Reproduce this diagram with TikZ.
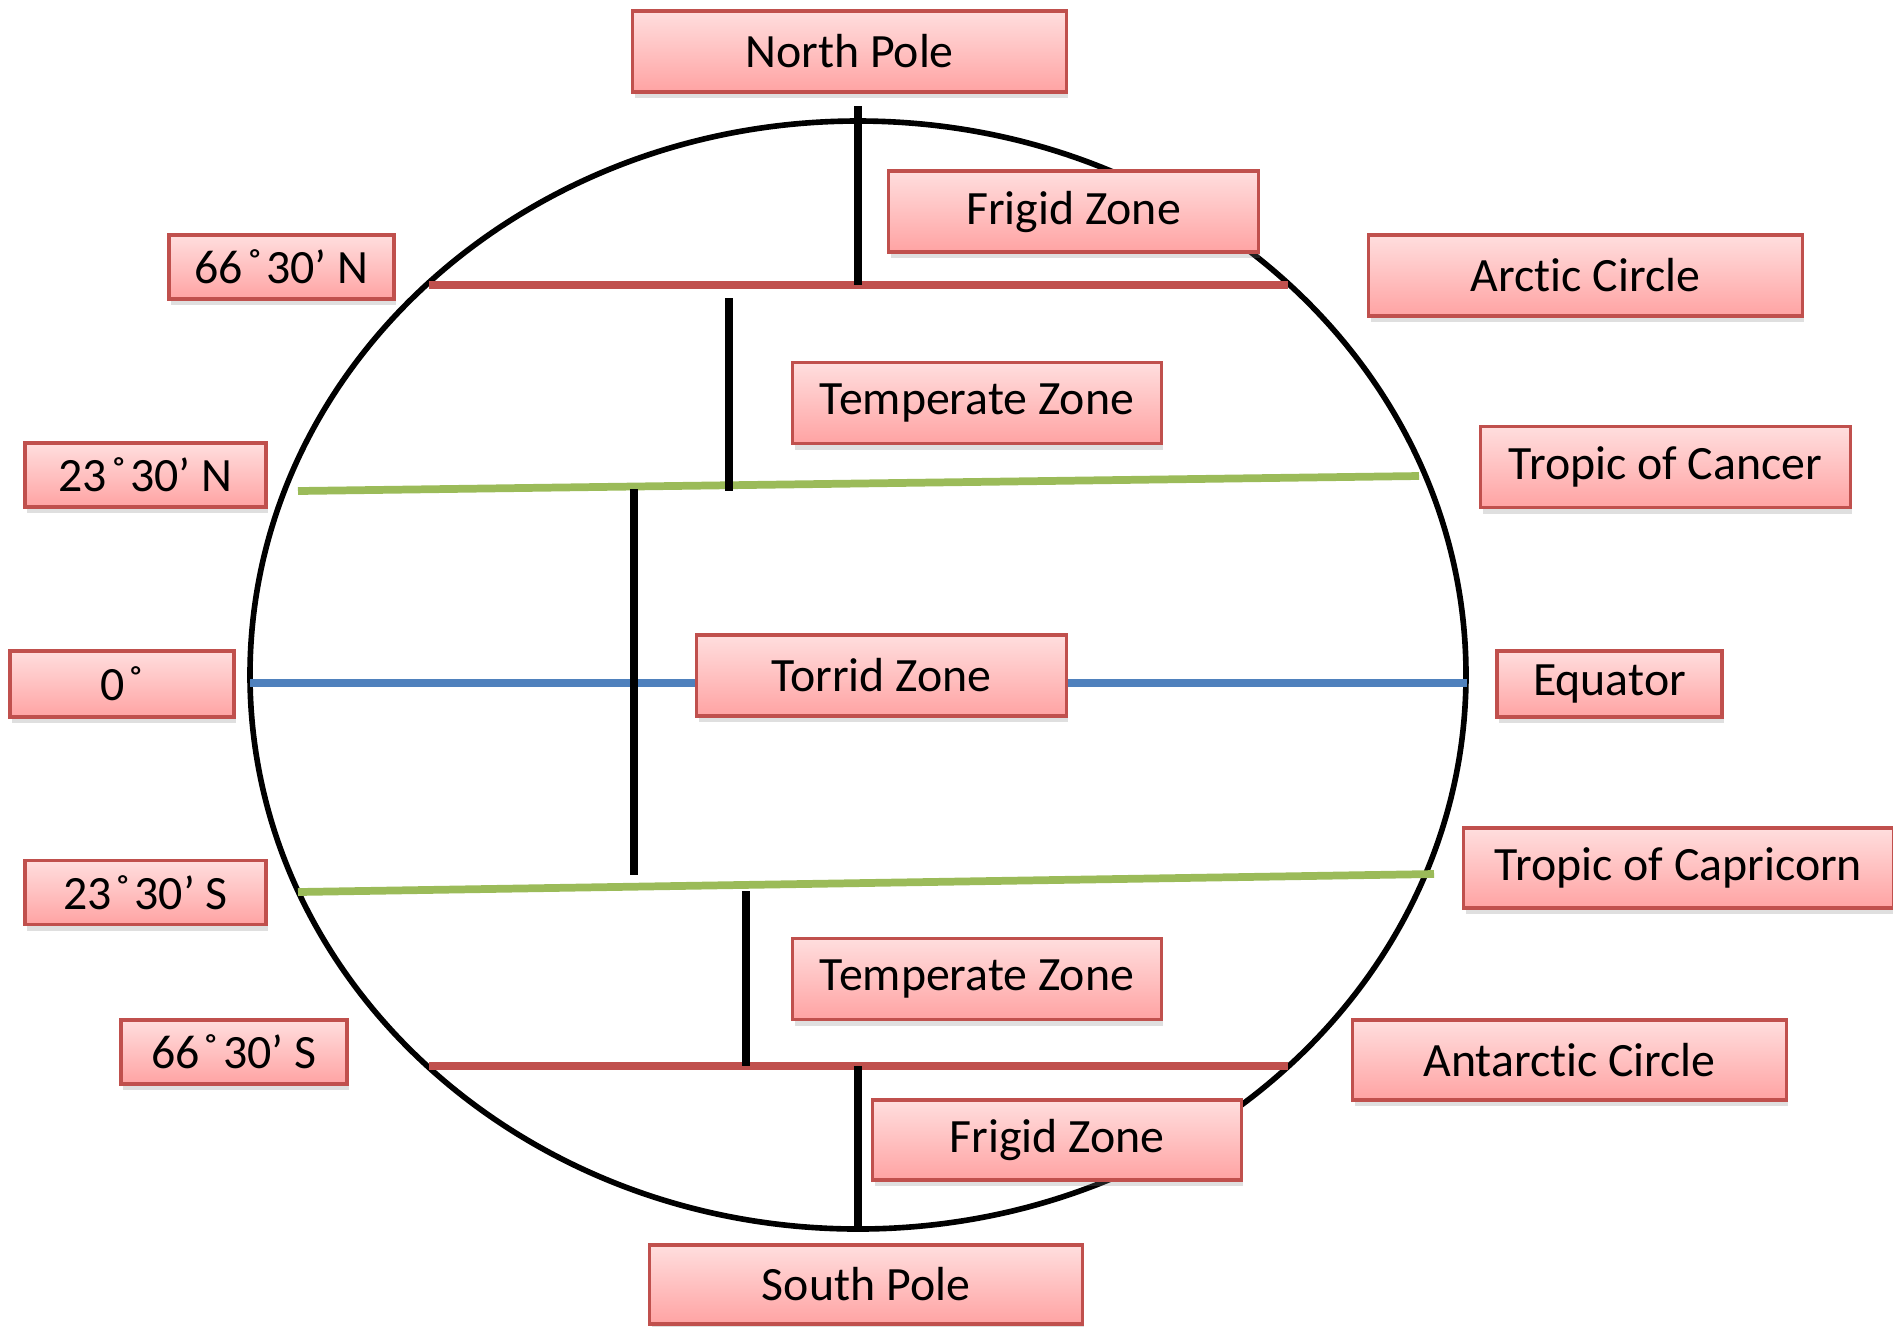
\documentclass[tikz,border=0pt]{standalone}
\usepackage{fontspec}
\setmainfont{Carlito}[Ligatures={NoCommon}]
\usetikzlibrary{shadows}

\definecolor{boxline}{HTML}{C0504D}
\definecolor{boxtop}{HTML}{FFDEDE}
\definecolor{boxbot}{HTML}{FFA3A3}
\definecolor{polarline}{HTML}{C0504D}
\definecolor{tropicline}{HTML}{9BBB59}
\definecolor{equatorline}{HTML}{4F81BD}

\newcommand{\dg}{\hspace{0.08em}˚\hspace{0.08em}}

\begin{document}
\begin{tikzpicture}[x=0.01cm,y=-0.01cm,
    zonebox/.style={draw=boxline,line width=0.9pt,top color=boxtop,bottom color=boxbot,
      minimum height=0.81cm,inner sep=0pt,font=\fontsize{13.6}{16}\selectfont,
      drop shadow={shadow xshift=0.6pt,shadow yshift=-1.8pt,opacity=0.25}},
    degbox/.style={zonebox,minimum height=0.64cm},
    zoneline/.style={line width=2.5pt,black},
    latline/.style={line width=2.2pt}]
  \useasboundingbox (0,0) rectangle (1893,1326);
  % globe and parallels
  \draw[line width=1.6pt] (858,675) ellipse [x radius=608,y radius=554];
  \draw[latline,polarline] (429,285)--(1288,285);
  \draw[latline,tropicline] (298,491)--(1419,476);
  \draw[latline,equatorline] (250,683)--(1467,683);
  \draw[latline,tropicline] (298,892)--(1434,874);
  \draw[latline,polarline] (429,1066)--(1288,1066);
  % zone markers
  \draw[zoneline] (858,106)--(858,285);
  \draw[zoneline] (729,298)--(729,491);
  \draw[zoneline] (634,489)--(634,875);
  \draw[zoneline] (746,891)--(746,1066);
  \draw[zoneline] (858,1066)--(858,1228);
  % labels
  \node[zonebox,minimum width=4.33cm] (npole) at (849.5,51.5) {North Pole};
  \node[zonebox,minimum width=3.69cm] (frigidn) at (1073.5,211.5) {Frigid Zone};
  \node[zonebox,minimum width=4.33cm] (arctic) at (1585.5,275.5) {Arctic Circle};
  \node[degbox,minimum width=2.25cm] (latarctic) at (281.5,267) {66\dg30’ N};
  \node[zonebox,minimum width=3.68cm] (temperaten) at (977,403) {Temperate Zone};
  \node[zonebox,minimum width=3.69cm] (cancer) at (1665.5,467) {Tropic of Cancer};
  \node[degbox,minimum width=2.41cm] (latcancer) at (145.5,475) {23\dg30’ N};
  \node[degbox,minimum width=2.24cm,minimum height=0.66cm] (latequator) at (122,684) {0\dg};
  \node[zonebox,minimum width=3.69cm] (torrid) at (881.5,675.5) {Torrid Zone};
  \node[degbox,minimum width=2.25cm,minimum height=0.66cm] (equator) at (1609.5,684) {Equator};
  \node[zonebox,minimum width=4.29cm,minimum height=0.8cm] (capricorn) at (1678.5,868) {Tropic of Capricorn};
  \node[degbox,minimum width=2.41cm] (latcapricorn) at (145.5,892.5) {23\dg30’ S};
  \node[zonebox,minimum width=3.68cm] (temperates) at (977,979) {Temperate Zone};
  \node[degbox,minimum width=2.26cm] (latantarctic) at (234,1052) {66\dg30’ S};
  \node[zonebox,minimum width=4.33cm,minimum height=0.8cm] (antarctic) at (1569.5,1060) {Antarctic Circle};
  \node[zonebox,minimum width=3.68cm,minimum height=0.8cm] (frigids) at (1057,1140) {Frigid Zone};
  \node[zonebox,minimum width=4.32cm,minimum height=0.79cm] (spole) at (866,1284.5) {South Pole};
\end{tikzpicture}
\end{document}
